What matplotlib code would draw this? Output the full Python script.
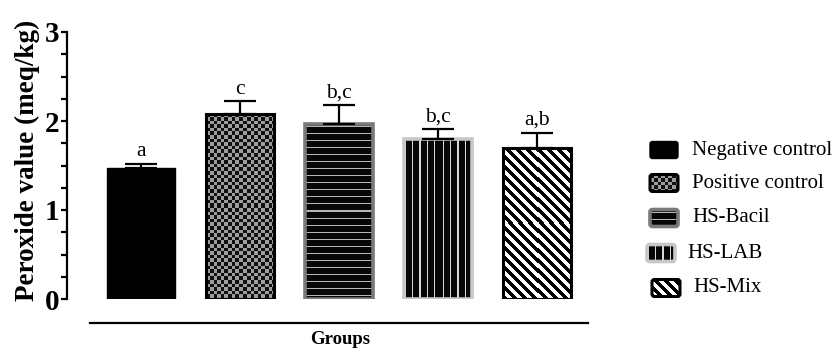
import numpy as np
import matplotlib
matplotlib.use("Agg")
import matplotlib.pyplot as plt
from matplotlib.patches import FancyBboxPatch
from matplotlib.lines import Line2D

groups = ["Negative control", "Positive control", "HS-Bacil", "HS-LAB", "HS-Mix"]
values = [1.47, 2.08, 1.97, 1.80, 1.70]
errors = [0.05, 0.14, 0.21, 0.11, 0.17]
letters = ["a", "c", "b,c", "b,c", "a,b"]
yticks = [0, 1, 2, 3]

textures = ["solid", "checker", "hstripe", "vstripe", "diag"]
edgecolors = ["black", "black", "#7a7a7a", "#c8c8c8", "black"]

SERIF = ["Liberation Serif", "DejaVu Serif"]
plt.rcParams["font.family"] = SERIF

W, H = 834, 351
fig = plt.figure(figsize=(W / 100, H / 100), dpi=100)

def fx(px):
    return px / W

def fy(py):
    return 1 - py / H

# main axes: left spine at x=67, y=0 at 299, y=3 at 32
ax_left, ax_right = 67, 600
ax_top, ax_bot = 32, 299
ax = fig.add_axes([fx(ax_left), fy(ax_bot), fx(ax_right - ax_left), (ax_bot - ax_top) / H])

spacing = 99.0
c0 = 141.0
xlim = ((ax_left - c0) / spacing, (ax_right - c0) / spacing)


def texture_img(kind, wpx, hpx):
    wpx = max(int(round(wpx)), 2)
    hpx = max(int(round(hpx)), 2)
    yy, xx = np.mgrid[0:hpx, 0:wpx]
    img = np.zeros((hpx, wpx, 3))
    if kind == "solid":
        img[:] = 0.0
    elif kind == "checker":
        c = 3.6
        m = ((np.floor(xx / c) + np.floor(yy / c)) % 2).astype(bool)
        img[:] = 0.07
        img[m] = 0.62
    elif kind == "hstripe":
        img[:] = 0.03
        m = (yy % 7) == 3
        img[m] = 0.72
    elif kind == "vstripe":
        img[:] = 0.03
        m = (xx % 7.4) < 1.3
        img[m] = 0.85
    elif kind == "diag":
        img[:] = 1.0
        m = ((xx - yy) % 10) < 4.6
        img[m] = 0.0
    return img


def apply_texture(axes, patch, kind, z, origin="upper"):
    fig.canvas.draw()
    bb = patch.get_window_extent()
    dbb = patch.get_bbox()  # data coords
    img = texture_img(kind, bb.width, bb.height)
    im = axes.imshow(img, extent=[dbb.x0, dbb.x1, dbb.y0, dbb.y1], origin=origin,
                     interpolation="nearest", aspect="auto", zorder=z)
    im.set_clip_path(patch)


x = np.arange(len(groups))
width = 0.69
ax.set_xlim(*xlim)
ax.set_ylim(0, 3)

bars = ax.bar(x, values, width=width, color="black", linewidth=0, zorder=1)
for b, t in zip(bars, textures):
    apply_texture(ax, b, t, 1.5)
ax.set_xlim(*xlim)
ax.set_ylim(0, 3)
ax.set_aspect("auto")

lws = [1.0, 2.2, 2.6, 2.6, 2.2]
ax.bar(x, values, width=width, facecolor="none", edgecolor=edgecolors,
       linewidth=lws, zorder=2)

ax.errorbar(x, values, yerr=[np.zeros(len(values)), errors], fmt="none",
            ecolor="black", elinewidth=1.6, capsize=11.5, capthick=1.6, zorder=3)

for xi, v, e, lab in zip(x, values, errors, letters):
    ax.annotate(lab, (xi, v + e), xytext=(0, 2.0), textcoords="offset points",
                ha="center", va="bottom", fontsize=15.5, family=SERIF)

ax.set_yticks(yticks)
ax.set_yticklabels([str(t) for t in yticks], fontsize=21, fontweight="bold")
ax.set_yticks(np.arange(0, 3.01, 0.25), minor=True)
ax.tick_params(axis="y", which="major", length=4, width=1.6, pad=1.5, direction="out")
ax.tick_params(axis="y", which="minor", length=4, width=1.6, direction="out")
ax.set_xticks([])
for s in ["top", "right", "bottom"]:
    ax.spines[s].set_visible(False)
ax.spines["left"].set_linewidth(1.6)
ax.patch.set_alpha(0)

fig.text(fx(27), fy(160), "Peroxide value (meq/kg)", rotation=90, ha="center", va="center",
         fontsize=19.5, fontweight="bold")

fig.add_artist(Line2D([fx(90), fx(588)], [fy(323), fy(323)], color="black", lw=1.6))
fig.text(fx(340), fy(340), "Groups", ha="center", va="center", fontsize=13.5, fontweight="bold")

# legend drawn manually
lax = fig.add_axes([0, 0, 1, 1])
lax.set_xlim(0, W)
lax.set_ylim(H, 0)
lax.axis("off")
leg_y = [150, 183, 218, 253, 288]
box_x = [650, 650, 650, 647, 652]
text_x = [692, 692, 692, 687, 693]
bw, bh = 28, 17
for i, (g, t, ec) in enumerate(zip(groups, textures, edgecolors)):
    yc = leg_y[i]
    p = FancyBboxPatch((box_x[i], yc - bh / 2), bw, bh, boxstyle="round,pad=0,rounding_size=2.5",
                       facecolor="black", edgecolor="none", zorder=1)
    lax.add_patch(p)
    apply_texture(lax, p, t, 1.5, origin="lower")
    lax.add_patch(FancyBboxPatch((box_x[i], yc - bh / 2), bw, bh, boxstyle="round,pad=0,rounding_size=2.5",
                                 facecolor="none", edgecolor=ec, lw=lws[i], zorder=2))
    lax.text(text_x[i], yc, g, ha="left", va="center", fontsize=15)
lax.set_xlim(0, W)
lax.set_ylim(H, 0)
lax.set_aspect("auto")

fig.savefig("out.png", dpi=100)
